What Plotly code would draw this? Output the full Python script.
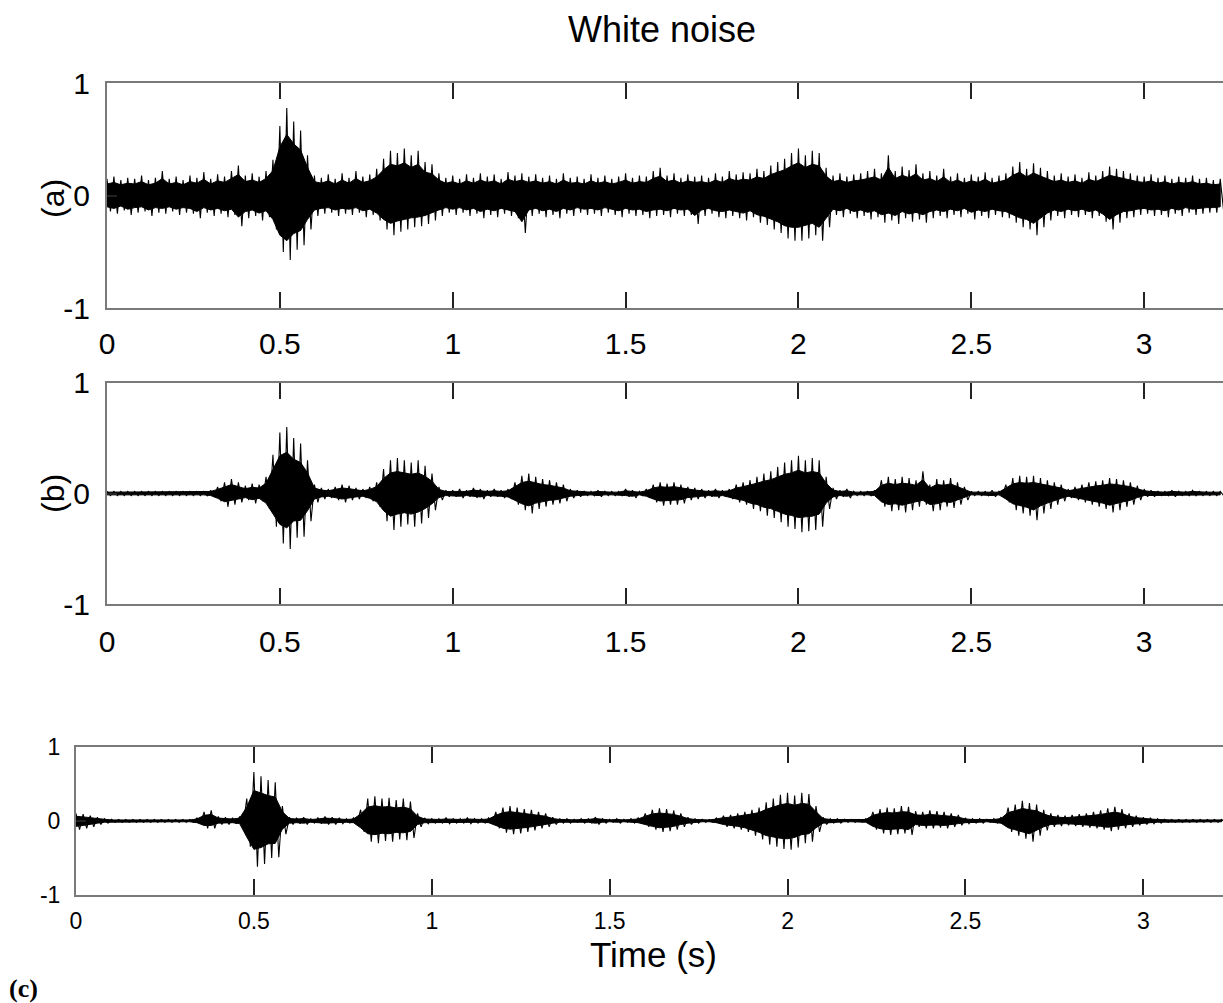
import numpy as np
import plotly.graph_objects as go

# ---- data: waveform envelopes, one value every 0.02 s ----
STEP = 0.02
x_tick_vals = [0, 0.5, 1, 1.5, 2, 2.5, 3]
x_tick_text = ["0", "0.5", "1", "1.5", "2", "2.5", "3"]
y_tick_vals = [-1, 0, 1]
y_tick_text = ["-1", "0", "1"]
panel_labels = ["(a)", "(b)"]
title_text = "White noise"
x_title = "Time (s)"

a_upper = [
    .15, .17, .14, .16, .15, .18, .14, .16, .22, .15,
    .17, .14, .18, .16, .21, .15, .19, .17, .22, .27,
    .18, .20, .17, .22, .32, .62, .78, .66, .58, .36,
    .18, .16, .19, .15, .20, .16, .22, .17, .19, .24,
    .33, .40, .38, .42, .36, .40, .30, .28, .20, .16,
    .18, .15, .19, .16, .20, .17, .19, .15, .21, .18,
    .20, .17, .19, .16, .18, .15, .20, .16, .17, .15,
    .19, .16, .18, .15, .17, .20, .16, .18, .17, .22,
    .25, .18, .20, .16, .19, .17, .18, .16, .20, .17,
    .22, .19, .21, .20, .24, .22, .27, .30, .33, .38,
    .42, .36, .40, .38, .25, .18, .20, .17, .19, .20,
    .22, .24, .20, .36, .22, .26, .23, .28, .20, .22,
    .18, .24, .17, .20, .16, .19, .17, .21, .16, .18,
    .20, .26, .30, .24, .29, .25, .22, .18, .20, .17,
    .19, .16, .21, .18, .22, .26, .24, .22, .20, .18,
    .17, .19, .16, .18, .15, .17, .16, .18, .15, .16,
    .14, .15]
a_lower = [
    -.14, -.16, -.13, -.17, -.15, -.14, -.18, -.15, -.16, -.14,
    -.17, -.15, -.16, -.20, -.15, -.18, -.16, -.19, -.17, -.27,
    -.20, -.18, -.22, -.19, -.30, -.50, -.57, -.48, -.44, -.30,
    -.18, -.16, -.15, -.18, -.16, -.17, -.15, -.19, -.17, -.22,
    -.30, -.35, -.32, -.30, -.28, -.27, -.25, -.22, -.18, -.15,
    -.17, -.15, -.18, -.16, -.20, -.17, -.19, -.16, -.18, -.20,
    -.33, -.18, -.16, -.19, -.17, -.20, -.16, -.18, -.15, -.17,
    -.16, -.18, -.15, -.17, -.19, -.16, -.18, -.17, -.20, -.18,
    -.17, -.19, -.16, -.18, -.17, -.25, -.18, -.16, -.19, -.20,
    -.18, -.20, -.22, -.19, -.24, -.26, -.30, -.33, -.38, -.40,
    -.40, -.38, -.35, -.40, -.28, -.17, -.19, -.16, -.20, -.18,
    -.21, -.19, -.24, -.22, -.25, -.20, -.23, -.21, -.24, -.20,
    -.18, -.20, -.17, -.19, -.16, -.21, -.18, -.20, -.17, -.19,
    -.20, -.24, -.28, -.30, -.35, -.28, -.22, -.18, -.20, -.17,
    -.19, -.17, -.20, -.18, -.23, -.30, -.24, -.20, -.19, -.17,
    -.16, -.18, -.17, -.19, -.16, -.18, -.15, -.17, -.16, -.15,
    -.15, -.14]

b_upper = [
    .02, .02, .02, .02, .02, .02, .02, .02, .02, .02,
    .02, .02, .02, .02, .02, .03, .06, .10, .13, .10,
    .07, .09, .08, .15, .35, .55, .60, .50, .45, .30,
    .08, .05, .04, .06, .08, .07, .05, .04, .06, .10,
    .22, .30, .32, .30, .28, .30, .25, .18, .06, .03,
    .03, .04, .03, .05, .04, .03, .04, .03, .04, .10,
    .16, .18, .15, .13, .12, .10, .08, .04, .03, .02,
    .02, .03, .02, .02, .02, .04, .03, .02, .04, .08,
    .10, .09, .10, .08, .06, .05, .04, .03, .04, .03,
    .04, .08, .10, .12, .15, .18, .20, .24, .28, .30,
    .34, .30, .32, .30, .15, .05, .03, .04, .02, .02,
    .02, .03, .12, .15, .13, .15, .14, .12, .20, .08,
    .13, .12, .14, .10, .06, .02, .02, .02, .03, .02,
    .08, .14, .16, .15, .16, .14, .12, .10, .08, .04,
    .06, .08, .10, .11, .12, .14, .13, .12, .10, .07,
    .04, .03, .02, .02, .03, .02, .02, .03, .02, .02,
    .02, .02]
b_lower = [
    -.02, -.02, -.02, -.02, -.02, -.02, -.02, -.02, -.02, -.02,
    -.02, -.02, -.02, -.02, -.02, -.03, -.07, -.12, -.10, -.08,
    -.06, -.09, -.07, -.14, -.30, -.45, -.50, -.40, -.39, -.25,
    -.08, -.05, -.04, -.06, -.08, -.06, -.05, -.04, -.07, -.12,
    -.25, -.33, -.30, -.28, -.30, -.27, -.22, -.15, -.06, -.03,
    -.03, -.04, -.03, -.04, -.05, -.03, -.03, -.04, -.05, -.10,
    -.15, -.18, -.14, -.12, -.10, -.09, -.07, -.04, -.03, -.02,
    -.02, -.03, -.02, -.02, -.02, -.03, -.04, -.02, -.04, -.08,
    -.11, -.10, -.10, -.09, -.06, -.05, -.04, -.03, -.04, -.03,
    -.05, -.08, -.10, -.14, -.16, -.20, -.22, -.26, -.30, -.32,
    -.35, -.34, -.33, -.30, -.14, -.05, -.03, -.04, -.02, -.02,
    -.02, -.03, -.12, -.16, -.15, -.17, -.15, -.12, -.10, -.16,
    -.15, -.12, -.13, -.10, -.06, -.02, -.02, -.02, -.03, -.02,
    -.08, -.15, -.18, -.20, -.24, -.18, -.14, -.10, -.07, -.04,
    -.06, -.08, -.10, -.12, -.14, -.17, -.15, -.12, -.10, -.06,
    -.03, -.03, -.02, -.02, -.03, -.02, -.02, -.02, -.02, -.02,
    -.02, -.02]

c_upper = [
    .10, .09, .07, .05, .03, .02, .02, .02, .02, .02,
    .02, .02, .02, .02, .02, .02, .02, .04, .12, .14,
    .06, .05, .04, .06, .30, .66, .60, .55, .52, .20,
    .05, .04, .05, .03, .04, .06, .05, .04, .03, .04,
    .15, .30, .33, .30, .31, .28, .30, .26, .10, .04,
    .03, .03, .04, .03, .03, .04, .03, .03, .04, .12,
    .18, .20, .18, .16, .15, .12, .10, .05, .03, .03,
    .02, .03, .03, .05, .03, .02, .03, .02, .03, .04,
    .10, .15, .17, .16, .14, .10, .05, .03, .02, .02,
    .04, .07, .08, .10, .12, .15, .18, .25, .30, .35,
    .38, .34, .38, .36, .20, .05, .03, .03, .02, .02,
    .02, .03, .12, .16, .18, .17, .20, .19, .13, .12,
    .14, .13, .12, .10, .08, .04, .03, .03, .02, .03,
    .05, .18, .22, .27, .24, .22, .15, .10, .08, .07,
    .08, .09, .10, .12, .14, .17, .19, .16, .10, .07,
    .05, .04, .03, .02, .02, .02, .02, .02, .02, .02,
    .02, .02]
c_lower = [
    -.12, -.10, -.08, -.05, -.03, -.02, -.02, -.02, -.02, -.02,
    -.02, -.02, -.02, -.02, -.02, -.02, -.02, -.04, -.10, -.10,
    -.05, -.05, -.04, -.06, -.35, -.62, -.58, -.50, -.49, -.18,
    -.05, -.04, -.05, -.03, -.04, -.05, -.05, -.04, -.03, -.04,
    -.15, -.28, -.30, -.27, -.28, -.25, -.26, -.23, -.08, -.04,
    -.03, -.03, -.04, -.03, -.03, -.04, -.03, -.03, -.04, -.10,
    -.16, -.18, -.17, -.15, -.13, -.10, -.08, -.05, -.03, -.03,
    -.02, -.03, -.03, -.05, -.03, -.02, -.03, -.02, -.03, -.04,
    -.08, -.12, -.15, -.14, -.12, -.08, -.05, -.03, -.02, -.02,
    -.04, -.08, -.10, -.12, -.15, -.20, -.25, -.32, -.35, -.38,
    -.39, -.36, -.30, -.28, -.15, -.05, -.03, -.03, -.02, -.02,
    -.02, -.03, -.12, -.17, -.19, -.18, -.17, -.19, -.08, -.10,
    -.10, -.09, -.10, -.08, -.06, -.04, -.03, -.03, -.02, -.03,
    -.05, -.15, -.20, -.24, -.28, -.20, -.13, -.08, -.07, -.06,
    -.07, -.08, -.09, -.10, -.12, -.14, -.12, -.10, -.08, -.06,
    -.05, -.04, -.03, -.02, -.02, -.02, -.02, -.02, -.02, -.02,
    -.02, -.02]

# ---- figure ----
W, H = 1223, 1003
SANS = "Liberation Sans, Arial, Helvetica, sans-serif"

def py(px):  # pixel row -> paper y
    return 1 - px / H

def pxx(px):  # pixel col -> paper x
    return px / W

panels = [
    dict(up=a_upper, lo=a_lower, xa="x", ya="y", left=107, top=83.3, bottom=308.3, core=0.7,
         xr=3.228, font=dict(family=SANS, size=30, color="black"), xstand=8, ystand=9),
    dict(up=b_upper, lo=b_lower, xa="x2", ya="y2", left=107, top=382.7, bottom=604.3, core=0.62,
         xr=3.228, font=dict(family=SANS, size=30, color="black"), xstand=10, ystand=9),
    dict(up=c_upper, lo=c_lower, xa="x3", ya="y3", left=76, top=746.7, bottom=895, core=0.62,
         xr=3.224, font=dict(family=SANS, size=23, color="black"), xstand=4, ystand=9),
]

fig = go.Figure()
layout_axes = {}
for i, p in enumerate(panels):
    n = min(len(p["up"]), len(p["lo"]))
    t = np.arange(n) * STEP
    up = np.array(p["up"][:n])
    lo = np.array(p["lo"][:n])
    # dense core of the waveform
    fig.add_trace(go.Scatter(
        x=list(t) + list(t[::-1]), y=list(up * p["core"]) + list((lo * p["core"])[::-1]),
        mode="lines", fill="toself", fillcolor="black",
        line=dict(color="black", width=1),
        xaxis=p["xa"], yaxis=p["ya"], hoverinfo="skip", showlegend=False))
    # oscillation strokes reaching the envelope
    zx, zy = [], []
    for k in range(n):
        zx += [t[k], t[k] + STEP / 2]
        zy += [up[k], lo[k]]
    fig.add_trace(go.Scatter(
        x=zx, y=zy, mode="lines", line=dict(color="black", width=1.1),
        xaxis=p["xa"], yaxis=p["ya"], hoverinfo="skip", showlegend=False))
    xk = "xaxis" if i == 0 else f"xaxis{i+1}"
    yk = "yaxis" if i == 0 else f"yaxis{i+1}"
    layout_axes[xk] = dict(
        domain=[pxx(p["left"]), 1.0], range=[0, p["xr"]], anchor=p["ya"],
        tickmode="array", tickvals=x_tick_vals, ticktext=x_tick_text,
        ticks="inside", ticklen=16, tickwidth=1.5, tickcolor="#222",
        showline=True, linecolor="#7a7a7a", linewidth=2, mirror="ticks",
        showgrid=False, zeroline=False, tickfont=p["font"], automargin=False,
        ticklabelstandoff=p["xstand"], fixedrange=True)
    layout_axes[yk] = dict(
        domain=[py(p["bottom"]), py(p["top"])], range=[-1, 1], anchor=p["xa"],
        tickmode="array", tickvals=y_tick_vals, ticktext=y_tick_text,
        ticks="inside", ticklen=10, tickwidth=1.5, tickcolor="#222",
        showline=True, linecolor="#7a7a7a", linewidth=2, mirror=False,
        showgrid=False, zeroline=False, tickfont=p["font"], automargin=False,
        ticklabelstandoff=p["ystand"], fixedrange=True)

annotations = [
    dict(text=title_text, x=pxx(662), y=py(30), xref="paper", yref="paper",
         showarrow=False, font=dict(family=SANS, size=36, color="black"),
         xanchor="center", yanchor="middle"),
    dict(text=panel_labels[0], x=pxx(53), y=py(199), xref="paper", yref="paper",
         showarrow=False, textangle=-90, font=dict(family=SANS, size=32, color="black"),
         xanchor="center", yanchor="middle"),
    dict(text=panel_labels[1], x=pxx(53), y=py(494), xref="paper", yref="paper",
         showarrow=False, textangle=-90, font=dict(family=SANS, size=32, color="black"),
         xanchor="center", yanchor="middle"),
    dict(text=x_title, x=pxx(654), y=py(954), xref="paper", yref="paper",
         showarrow=False, font=dict(family=SANS, size=35, color="black"),
         xanchor="center", yanchor="middle"),
    dict(text="<b>(c)</b>", x=pxx(7), y=py(988), xref="paper", yref="paper",
         showarrow=False, font=dict(family="Liberation Serif, Times New Roman, serif", size=26, color="black"),
         xanchor="left", yanchor="middle"),
]

fig.update_layout(
    width=W, height=H, margin=dict(l=0, r=0, t=0, b=0, autoexpand=False),
    paper_bgcolor="white", plot_bgcolor="white",
    showlegend=False, annotations=annotations, **layout_axes)

fig.write_html("out.html", config={"displayModeBar": False},
               post_script="document.body.style.margin='0px';document.body.style.overflow='hidden';")
